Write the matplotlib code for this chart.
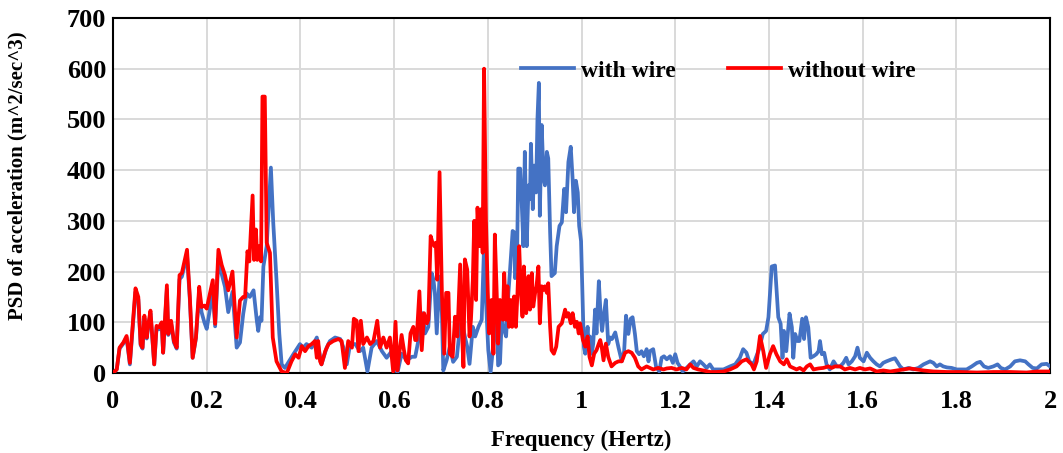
import matplotlib
matplotlib.use('Agg')
import matplotlib.pyplot as plt

# PSD spectra: (frequency in Hz, PSD value)
blue_freq = [0.0, 0.008, 0.014, 0.022, 0.029, 0.036, 0.048, 0.054, 0.059, 0.063, 0.067, 0.072, 0.075, 0.080, 0.088,
             0.093, 0.098, 0.104, 0.107, 0.115, 0.118, 0.124, 0.130, 0.136, 0.142, 0.147, 0.158, 0.164, 0.170, 0.177,
             0.184, 0.189, 0.195, 0.200, 0.213, 0.218, 0.225, 0.232, 0.239, 0.246, 0.255, 0.264, 0.271, 0.278, 0.285,
             0.292, 0.300, 0.307, 0.310, 0.314, 0.317, 0.321, 0.328, 0.337, 0.342, 0.349, 0.355, 0.360, 0.367, 0.385,
             0.399, 0.406, 0.413, 0.424, 0.435, 0.445, 0.456, 0.463, 0.474, 0.485, 0.492, 0.499, 0.506, 0.517, 0.527,
             0.534, 0.543, 0.552, 0.563, 0.574, 0.584, 0.595, 0.607, 0.616, 0.627, 0.638, 0.645, 0.652, 0.661, 0.666,
             0.673, 0.680, 0.684, 0.687, 0.691, 0.697, 0.702, 0.705, 0.712, 0.719, 0.726, 0.734, 0.739, 0.744, 0.751,
             0.756, 0.761, 0.768, 0.773, 0.780, 0.787, 0.792, 0.796, 0.801, 0.806, 0.812, 0.819, 0.822, 0.826, 0.830,
             0.833, 0.839, 0.844, 0.847, 0.853, 0.857, 0.858, 0.862, 0.865, 0.869, 0.872, 0.876, 0.879, 0.883, 0.887,
             0.890, 0.892, 0.896, 0.899, 0.903, 0.906, 0.909, 0.911, 0.915, 0.919, 0.922, 0.926, 0.929, 0.933, 0.936,
             0.943, 0.947, 0.953, 0.958, 0.963, 0.967, 0.972, 0.977, 0.981, 0.984, 0.988, 0.992, 0.995, 0.999, 1.003,
             1.005, 1.008, 1.013, 1.015, 1.018, 1.022, 1.025, 1.029, 1.032, 1.037, 1.041, 1.044, 1.047, 1.052, 1.057,
             1.061, 1.065, 1.072, 1.079, 1.086, 1.091, 1.095, 1.100, 1.105, 1.109, 1.114, 1.118, 1.123, 1.128, 1.133,
             1.139, 1.143, 1.146, 1.153, 1.159, 1.166, 1.171, 1.176, 1.182, 1.189, 1.195, 1.200, 1.205, 1.210, 1.216,
             1.224, 1.232, 1.239, 1.246, 1.253, 1.260, 1.267, 1.274, 1.281, 1.288, 1.303, 1.317, 1.328, 1.338, 1.345,
             1.352, 1.358, 1.367, 1.372, 1.379, 1.387, 1.394, 1.399, 1.406, 1.413, 1.420, 1.425, 1.429, 1.432, 1.437,
             1.444, 1.449, 1.452, 1.456, 1.461, 1.465, 1.471, 1.475, 1.479, 1.484, 1.489, 1.495, 1.501, 1.506, 1.509,
             1.513, 1.518, 1.523, 1.530, 1.538, 1.545, 1.552, 1.559, 1.565, 1.570, 1.577, 1.584, 1.589, 1.594, 1.602,
             1.609, 1.616, 1.623, 1.630, 1.637, 1.644, 1.651, 1.662, 1.669, 1.680, 1.687, 1.698, 1.708, 1.719, 1.730,
             1.737, 1.744, 1.751, 1.758, 1.765, 1.772, 1.780, 1.790, 1.801, 1.812, 1.822, 1.833, 1.844, 1.851, 1.859,
             1.868, 1.879, 1.888, 1.895, 1.904, 1.915, 1.925, 1.936, 1.947, 1.954, 1.963, 1.972, 1.982, 1.993, 2.0]
blue_psd = [0, 7, 48, 58, 70, 17, 160, 145, 55, 48, 108, 68, 90, 118, 17,
            90, 86, 95, 40, 165, 75, 98, 60, 48, 185, 190, 232, 145, 30, 68,
            160, 120, 100, 87, 160, 92, 225, 195, 170, 120, 160, 50, 60, 117, 157,
            150, 163, 103, 83, 110, 103, 210, 250, 405, 297, 183, 77, 17, 10, 37,
            57, 50, 57, 50, 70, 17, 50, 63, 70, 67, 50, 17, 57, 57, 43,
            50, 3, 50, 63, 43, 30, 43, 0, 38, 25, 32, 32, 65, 118, 78,
            91, 197, 184, 158, 78, 190, 118, 5, 25, 52, 22, 32, 78, 105, 72,
            52, 18, 91, 72, 91, 105, 250, 144, 45, 2, 58, 118, 15, 19, 111,
            91, 72, 158, 197, 280, 277, 187, 197, 403, 403, 343, 250, 436, 250, 370,
            343, 452, 323, 409, 356, 502, 572, 310, 489, 383, 370, 436, 423, 277, 191,
            197, 250, 290, 297, 363, 317, 416, 446, 383, 317, 379, 356, 290, 260, 125,
            52, 38, 91, 58, 72, 38, 58, 125, 78, 181, 110, 83, 110, 144, 57,
            70, 67, 80, 50, 23, 43, 113, 77, 107, 110, 77, 43, 37, 43, 33,
            47, 23, 43, 47, 13, 3, 30, 33, 27, 33, 20, 37, 20, 13, 3,
            10, 17, 23, 13, 23, 17, 10, 17, 7, 7, 7, 13, 17, 30, 47,
            40, 23, 17, 30, 47, 77, 83, 110, 210, 212, 110, 97, 30, 83, 43,
            117, 90, 30, 77, 63, 63, 107, 67, 110, 90, 30, 33, 37, 43, 63,
            37, 40, 17, 7, 23, 13, 13, 20, 30, 17, 23, 33, 50, 30, 23,
            40, 30, 23, 17, 13, 20, 23, 27, 29, 13, 7, 10, 7, 10, 17,
            20, 23, 20, 13, 17, 13, 11, 10, 7, 7, 7, 13, 20, 22, 13,
            10, 13, 17, 10, 7, 13, 23, 25, 23, 17, 10, 9, 17, 18, 13]

red_freq = [0.0, 0.008, 0.014, 0.022, 0.029, 0.036, 0.048, 0.054, 0.059, 0.063, 0.067, 0.072, 0.075, 0.080, 0.088,
            0.093, 0.098, 0.104, 0.107, 0.115, 0.118, 0.124, 0.130, 0.136, 0.142, 0.147, 0.158, 0.164, 0.170, 0.177,
            0.184, 0.189, 0.195, 0.200, 0.213, 0.218, 0.225, 0.232, 0.239, 0.246, 0.255, 0.264, 0.271, 0.278, 0.282,
            0.287, 0.291, 0.298, 0.301, 0.305, 0.308, 0.312, 0.316, 0.319, 0.324, 0.328, 0.335, 0.341, 0.349, 0.360,
            0.371, 0.381, 0.389, 0.396, 0.403, 0.410, 0.417, 0.424, 0.431, 0.435, 0.438, 0.442, 0.445, 0.453, 0.460,
            0.470, 0.481, 0.488, 0.495, 0.502, 0.510, 0.514, 0.520, 0.524, 0.529, 0.534, 0.542, 0.549, 0.556, 0.564,
            0.570, 0.577, 0.584, 0.591, 0.598, 0.603, 0.607, 0.611, 0.616, 0.621, 0.625, 0.630, 0.635, 0.641, 0.645,
            0.648, 0.654, 0.659, 0.664, 0.670, 0.673, 0.678, 0.682, 0.686, 0.689, 0.692, 0.697, 0.702, 0.707, 0.711,
            0.716, 0.719, 0.725, 0.730, 0.735, 0.741, 0.745, 0.748, 0.751, 0.756, 0.761, 0.764, 0.768, 0.771, 0.775,
            0.778, 0.782, 0.786, 0.789, 0.792, 0.796, 0.800, 0.803, 0.808, 0.812, 0.815, 0.819, 0.822, 0.826, 0.832,
            0.835, 0.839, 0.842, 0.845, 0.849, 0.852, 0.856, 0.860, 0.863, 0.867, 0.870, 0.874, 0.877, 0.882, 0.887,
            0.890, 0.894, 0.897, 0.901, 0.904, 0.908, 0.911, 0.915, 0.919, 0.922, 0.926, 0.929, 0.933, 0.936, 0.941,
            0.946, 0.951, 0.958, 0.965, 0.968, 0.972, 0.977, 0.981, 0.986, 0.990, 0.994, 0.997, 1.003, 1.008, 1.013,
            1.017, 1.022, 1.027, 1.032, 1.037, 1.040, 1.043, 1.047, 1.052, 1.057, 1.064, 1.072, 1.079, 1.086, 1.093,
            1.100, 1.107, 1.114, 1.121, 1.128, 1.139, 1.146, 1.153, 1.164, 1.175, 1.182, 1.192, 1.203, 1.214, 1.224,
            1.232, 1.239, 1.249, 1.260, 1.274, 1.288, 1.303, 1.317, 1.331, 1.342, 1.352, 1.363, 1.368, 1.374, 1.381,
            1.388, 1.394, 1.402, 1.409, 1.416, 1.424, 1.432, 1.438, 1.445, 1.452, 1.459, 1.466, 1.474, 1.481, 1.488,
            1.495, 1.506, 1.516, 1.527, 1.534, 1.541, 1.552, 1.562, 1.573, 1.584, 1.594, 1.605, 1.616, 1.630, 1.644,
            1.659, 1.673, 1.687, 1.701, 1.715, 1.730, 1.751, 1.780, 1.808, 1.844, 1.879, 1.915, 1.950, 1.972, 2.0]
red_psd = [0, 7, 50, 60, 73, 20, 167, 150, 57, 50, 113, 70, 93, 123, 17,
           93, 90, 100, 40, 173, 77, 103, 63, 50, 193, 197, 243, 150, 30, 70,
           170, 130, 133, 127, 183, 97, 243, 213, 193, 163, 200, 70, 143, 150, 150,
           240, 220, 350, 223, 283, 223, 250, 220, 545, 545, 257, 237, 70, 23, 3,
           0, 23, 37, 30, 53, 43, 53, 57, 63, 30, 63, 23, 17, 43, 57,
           63, 67, 63, 10, 63, 50, 107, 103, 43, 103, 57, 70, 57, 63, 103,
           50, 70, 50, 70, 3, 101, 5, 38, 75, 45, 25, 19, 78, 91, 65,
           65, 161, 45, 118, 98, 105, 270, 257, 250, 257, 184, 396, 158, 38, 158,
           158, 38, 32, 111, 72, 214, 78, 12, 224, 204, 72, 105, 184, 300, 144,
           326, 250, 323, 237, 600, 303, 158, 78, 144, 38, 273, 158, 58, 144, 105,
           197, 105, 171, 91, 144, 91, 151, 91, 151, 250, 171, 111, 210, 118, 191,
           125, 197, 131, 158, 171, 210, 98, 171, 164, 171, 158, 177, 91, 45, 38,
           52, 91, 98, 125, 111, 118, 98, 118, 91, 101, 78, 98, 65, 52, 72,
           32, 15, 38, 45, 58, 65, 52, 25, 58, 32, 13, 20, 23, 23, 40,
           43, 40, 30, 13, 7, 13, 10, 7, 10, 7, 9, 10, 7, 10, 7,
           17, 10, 7, 5, 2, 2, 3, 7, 13, 23, 27, 17, 7, 23, 73,
           43, 10, 37, 53, 37, 23, 17, 27, 13, 10, 7, 10, 5, 13, 17,
           7, 9, 10, 13, 10, 13, 13, 7, 10, 7, 10, 7, 9, 3, 5,
           3, 5, 7, 9, 7, 5, 3, 2, 2, 1, 2, 2, 1, 3, 3]

x_ticks = [0, 0.2, 0.4, 0.6, 0.8, 1.0, 1.2, 1.4, 1.6, 1.8, 2.0]
x_labels = ['0', '0.2', '0.4', '0.6', '0.8', '1', '1.2', '1.4', '1.6', '1.8', '2']
y_ticks = [0, 100, 200, 300, 400, 500, 600, 700]

plt.rcParams['font.family'] = ['Liberation Serif', 'DejaVu Serif']
plt.rcParams['font.weight'] = 'bold'

fig = plt.figure(figsize=(10.63, 4.53), dpi=100)
ax = fig.add_axes([0.1063, 0.1766, 0.8815, 0.7837])

ax.plot(blue_freq, blue_psd, color='#4472C4', linewidth=2.7, label='with wire', zorder=3)
ax.plot(red_freq, red_psd, color='#FF0000', linewidth=2.7, label='without wire', zorder=4)

ax.set_xlim(0, 2)
ax.set_ylim(0, 700)
ax.set_xticks(x_ticks)
ax.set_xticklabels(x_labels)
ax.set_yticks(y_ticks)
ax.tick_params(axis='x', length=0, labelsize=19, pad=12)
ax.tick_params(axis='y', length=0, labelsize=19, pad=5)
for lbl in ax.get_xticklabels() + ax.get_yticklabels():
    lbl.set_fontweight('bold')

ax.grid(True, color='#d9d9d9', linewidth=1.4, zorder=0)
ax.set_axisbelow(True)
for sp in ax.spines.values():
    sp.set_color('black')
    sp.set_linewidth(1.5)

ax.set_xlabel('Frequency (Hertz)', fontsize=16.5, fontweight='bold', labelpad=12)
ax.set_ylabel('PSD of acceleration (m^2/sec^3)', fontsize=15, fontweight='bold')
# label sits a bit above the axes centre in the original
ax.yaxis.set_label_coords(-0.091, 0.555)

ax.legend(loc='center', bbox_to_anchor=(0.646, 0.851), ncol=2, frameon=False,
          prop={'size': 17, 'weight': 'bold'}, handlelength=2.25, columnspacing=2.2,
          handletextpad=0.3)

fig.savefig('out.png', dpi=100)
